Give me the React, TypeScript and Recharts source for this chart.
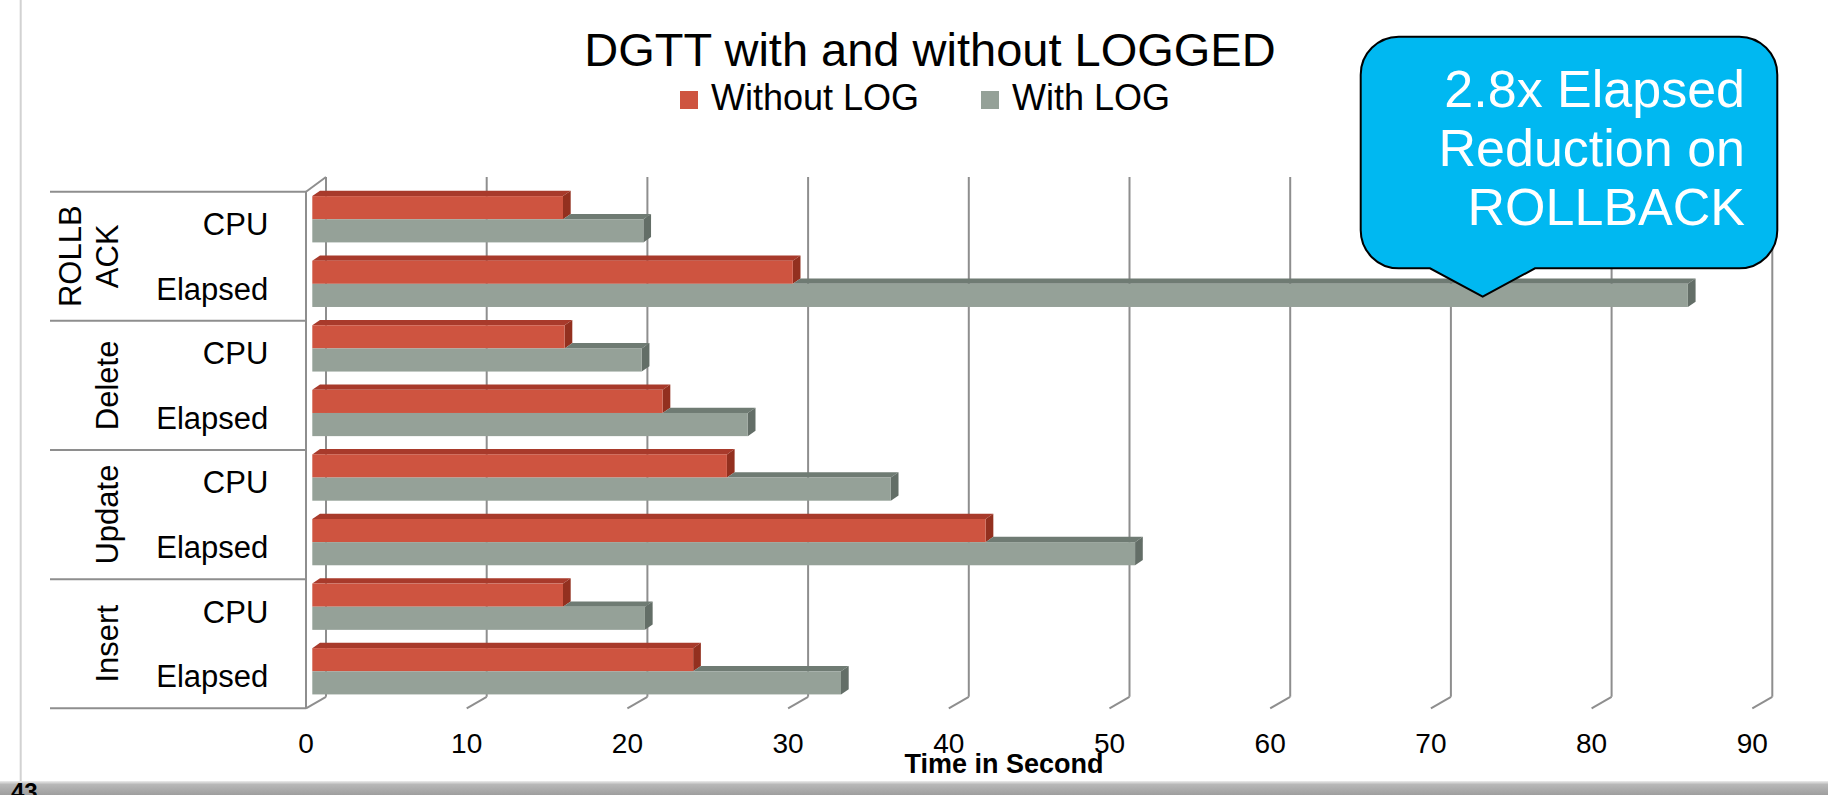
import React from "react";
import { BarChart, Bar, XAxis, YAxis, CartesianGrid } from "recharts";

// ---- data ----
const groups = ["ROLLBACK", "ROLLBACK", "Delete", "Delete", "Update", "Update", "Insert", "Insert"];
const categories = ["CPU", "Elapsed", "CPU", "Elapsed", "CPU", "Elapsed", "CPU", "Elapsed"];
const withoutLog = [15.6, 29.9, 15.7, 21.8, 25.8, 41.9, 15.6, 23.7];
const withLog = [20.6, 85.6, 20.5, 27.1, 36.0, 51.2, 20.7, 32.9];
const xTicks = [0, 10, 20, 30, 40, 50, 60, 70, 80, 90];
const seriesNames = ["Without LOG", "With LOG"];
const title = "DGTT with and without LOGGED";
const xAxisTitle = "Time in Second";
const calloutLines = ["2.8x Elapsed", "Reduction on", "ROLLBACK"];
const pageNumber = "43";

const data = categories.map((c, i) => ({
  key: `${groups[i]}|${c}`,
  cat: c,
  group: groups[i],
  without: withoutLog[i],
  withL: withLog[i],
}));

// ---- layout / style ----
const W = 1828;
const H = 795;
const LEFT = 306;
const TOP = 191.7;
const BOTTOM = 708.3;
const RIGHT = 306 + 90 * 16.07;
const XAXIS_H = 40;
const ROW_H = (BOTTOM - TOP) / data.length;
const FONT = '"Liberation Sans", Arial, Helvetica, sans-serif';
const GRID = "#8e8e8e";

const COLORS = {
  red: { front: "#CE5440", top: "#A83A2B", side: "#93301F" },
  grey: { front: "#95A198", top: "#6F7B73", side: "#636E67" },
};
const seriesColors = [COLORS.red.front, COLORS.grey.front];

// 3D offsets
const OX = 6.3; // bar front face depth shift
const OY = -4.6;
const DX = 7.7; // bar depth
const DY = -5.3;
const BX = 20; // back plane
const BY_TOP = -14.7;
const BY_BOT = -11.5;

function Bar3D(props: any, kind: "red" | "grey") {
  const { x, y, width, height, payload } = props;
  if (width == null || height == null) return <g />;
  const c = COLORS[kind];
  const fx = x + OX;
  const fy = y + OY;
  const w = Math.max(0, width);
  let topStart = fx;
  if (kind === "grey" && payload && payload.withL > 0) {
    topStart = fx + Math.min(w, (w * payload.without) / payload.withL);
  }
  const r = fx + w;
  return (
    <g>
      {r > topStart && (
        <polygon
          points={`${topStart},${fy} ${r},${fy} ${r + DX},${fy + DY} ${topStart + DX},${fy + DY}`}
          fill={c.top}
        />
      )}
      <polygon
        points={`${r},${fy} ${r + DX},${fy + DY} ${r + DX},${fy + height + DY} ${r},${fy + height}`}
        fill={c.side}
      />
      <rect x={fx} y={fy} width={w} height={height} fill={c.front} />
    </g>
  );
}

const GridLine = (p: any) => {
  const { x1, y1, y2, index } = p;
  return (
    <g key={p.key ?? `g${index}`}>
      <line x1={x1 + BX} y1={y1 + BY_TOP} x2={x1 + BX} y2={y2 + BY_BOT} stroke={GRID} strokeWidth={2} />
      <line x1={x1} y1={y2} x2={x1 + BX} y2={y2 + BY_BOT} stroke={GRID} strokeWidth={2} />
      {index === 0 && (
        <line x1={x1} y1={y1} x2={x1 + BX} y2={y1 + BY_TOP} stroke={GRID} strokeWidth={2} />
      )}
    </g>
  );
};

const YTick = (props: any) => {
  const { y, payload, index } = props;
  let i = data.findIndex((d) => d.key === payload.value);
  if (i < 0) i = index;
  const d = data[i];
  const half = payload && payload.offset > 0 ? payload.offset : ROW_H / 2;
  const first = i === 0 || groups[i - 1] !== groups[i];
  const lastAll = i === data.length - 1;
  const els: React.ReactNode[] = [];
  els.push(
    <text key="s" x={268.3} y={y + 11.1} textAnchor="end" fontSize={31} fontFamily={FONT} fill="#000">
      {d.cat}
    </text>
  );
  if (first) {
    const top = y - half;
    els.push(<line key="sep" x1={50} y1={top} x2={LEFT} y2={top} stroke={GRID} strokeWidth={2} />);
    let count = 0;
    for (let k = i; k < groups.length && groups[k] === groups[i]; k++) count++;
    const cy = top + count * half;
    const label = d.group;
    const lines = label.length > 6 ? [label.slice(0, 5), label.slice(5)] : [label];
    lines.forEach((ln, j) => {
      const bx = 118 - (lines.length - 1 - j) * 36.6;
      els.push(
        <text
          key={`g${j}`}
          transform={`translate(${bx},${cy}) rotate(-90)`}
          textAnchor="middle"
          fontSize={31}
          fontFamily={FONT}
          fill="#000"
        >
          {ln}
        </text>
      );
    });
  }
  if (lastAll) {
    els.push(
      <line key="sepb" x1={50} y1={y + half} x2={LEFT} y2={y + half} stroke={GRID} strokeWidth={2} />
    );
  }
  return <g>{els}</g>;
};

const XTick = (props: any) => {
  const { x, payload } = props;
  return (
    <text x={x} y={BOTTOM + 45} textAnchor="middle" fontSize={28} fontFamily={FONT} fill="#000">
      {payload.value}
    </text>
  );
};

function Callout() {
  const L = 1360.7, R = 1777.3, T = 36.7, B = 268.3, r = 38;
  const pL = 1430, pR = 1535, tipX = 1482.7, tipY = 296.7;
  const d = `M ${L + r} ${T} H ${R - r} A ${r} ${r} 0 0 1 ${R} ${T + r} V ${B - r} A ${r} ${r} 0 0 1 ${R - r} ${B} H ${pR} L ${tipX} ${tipY} L ${pL} ${B} H ${L + r} A ${r} ${r} 0 0 1 ${L} ${B - r} V ${T + r} A ${r} ${r} 0 0 1 ${L + r} ${T} Z`;
  return (
    <g>
      <path d={d} fill="#00B8F1" stroke="#000" strokeWidth={2} />
      {calloutLines.map((t, i) => (
        <text key={i} x={1745} y={106.7 + i * 59.2} textAnchor="end" fontSize={52} fontFamily={FONT} fill="#fff">
          {t}
        </text>
      ))}
    </g>
  );
}

export default function App() {
  const legendX = [680, 981];
  return (
    <div style={{ position: "absolute", left: 0, top: 0, width: W, height: H, background: "#fff", overflow: "hidden" }}>
      <svg width={W} height={H} style={{ position: "absolute", left: 0, top: 0 }}>
        <defs>
          <linearGradient id="band" x1="0" y1="0" x2="0" y2="1">
            <stop offset="0%" stopColor="#ececec" />
            <stop offset="25%" stopColor="#b8b8b8" />
            <stop offset="100%" stopColor="#9e9e9e" />
          </linearGradient>
        </defs>
        <line x1={20.7} y1={0} x2={20.7} y2={782} stroke="#d2d2d2" strokeWidth={2} />
        <rect x={0} y={781} width={W} height={14} fill="url(#band)" />
      </svg>
      <div style={{ position: "absolute", left: 0, top: 0 }}>
        <BarChart
          width={W}
          height={H}
          data={data}
          layout="vertical"
          margin={{ top: TOP, right: W - RIGHT, bottom: H - BOTTOM - XAXIS_H, left: 50 }}
          barSize={23.15}
          barGap={0}
        >
          <CartesianGrid horizontal={false} vertical={GridLine as any} stroke={GRID} />
          <XAxis
            type="number"
            domain={[0, 90]}
            ticks={xTicks}
            interval={0}
            axisLine={false}
            tickLine={false}
            height={XAXIS_H}
            tick={<XTick />}
          />
          <YAxis
            type="category"
            dataKey="key"
            width={LEFT - 50}
            interval={0}
            tickLine={false}
            axisLine={{ stroke: GRID, strokeWidth: 2 }}
            tick={<YTick />}
          />
          <Bar
            dataKey="without"
            name={seriesNames[0]}
            fill={seriesColors[0]}
            isAnimationActive={false}
            shape={(p: any) => Bar3D(p, "red")}
          />
          <Bar
            dataKey="withL"
            name={seriesNames[1]}
            fill={seriesColors[1]}
            isAnimationActive={false}
            shape={(p: any) => Bar3D(p, "grey")}
          />
        </BarChart>
      </div>
      <svg width={W} height={H} style={{ position: "absolute", left: 0, top: 0, pointerEvents: "none" }}>
        <text x={930} y={65.7} textAnchor="middle" fontSize={47} fontFamily={FONT} fill="#000">
          {title}
        </text>
        {seriesNames.map((n, i) => (
          <g key={n}>
            <rect x={legendX[i]} y={91} width={18} height={18} fill={seriesColors[i]} />
            <text x={legendX[i] + 31} y={110} fontSize={36} fontFamily={FONT} fill="#000">
              {n}
            </text>
          </g>
        ))}
        <text x={1004} y={772.7} textAnchor="middle" fontSize={27} fontWeight="bold" fontFamily={FONT} fill="#000">
          {xAxisTitle}
        </text>
        <Callout />
        <text x={11} y={800} fontSize={24} fontWeight="bold" fontFamily={FONT} fill="#000">
          {pageNumber}
        </text>
      </svg>
    </div>
  );
}
